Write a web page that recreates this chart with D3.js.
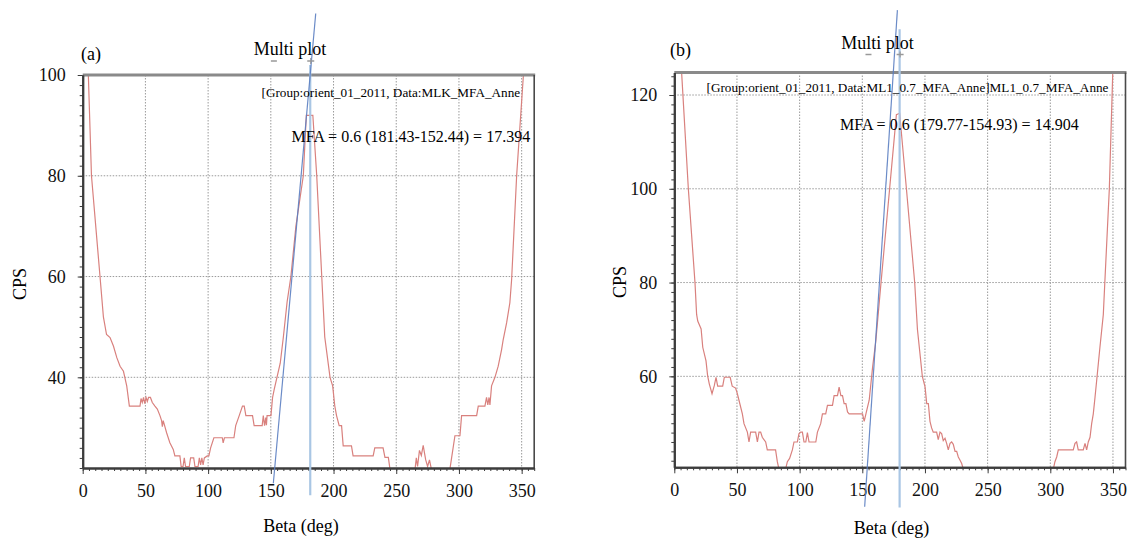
<!DOCTYPE html>
<html>
<head>
<meta charset="utf-8">
<title>Multi plot</title>
<script src="https://cdn.jsdelivr.net/npm/d3@7"></script>
<style>
  body { margin: 0; background: #fff; }
  svg { display: block; font-family: "Liberation Serif", "Times New Roman", serif; }
  .axis path, .axis line { stroke: #3c3c3c; }
  .axis path { stroke-width: 2; }
  .axis text { font-family: "Liberation Serif", serif; font-size: 18px; fill: #111; }
  .grid line { stroke: #9a9a9a; stroke-width: 1; stroke-dasharray: 1.5,1.5; }
</style>
</head>
<body>
<svg id="chart" width="1127" height="538"></svg>
<script>
// ---- data ----
const xTicks = [0, 50, 100, 150, 200, 250, 300, 350]
const yTicksA = [40, 60, 80, 100]
const yTicksB = [60, 80, 100, 120]

// panel (a): Beta (deg) / CPS
const betaA = [3, 4.5, 7, 13.8, 16.5, 19, 21.8, 24.5, 27.2, 29.8, 32.5, 35.1, 37.2, 45.7, 46.5, 47.5, 48.5, 49.5, 50.5, 51.5, 52.5, 54, 55.5, 57.6,
  59.5, 61.6, 62.9, 63.5, 64.2, 66.9, 69.5, 72.2, 73.5, 77.5, 78.5, 80, 81, 82, 85, 86, 88.5, 89.5, 92, 93, 94, 95, 96, 97, 99.3, 100.6,
  102, 104.6, 111.3, 112, 113, 120.6, 122, 124.8, 127.4, 128.8, 130.1, 135.4, 136.7, 143.1, 144, 145, 146, 146.5, 147, 150.1,
  151.4, 152.7, 157.5, 160, 163, 166, 170, 175.9, 178.3, 183.5, 186.6, 190.6, 193, 197.2, 199.3, 199.6, 201, 202.4, 204.5, 206.4,
  207.7, 214.3, 215.6, 231.6, 232.9, 239.5, 241, 243.7, 245, 265, 266, 267, 268.5, 270, 271.5, 272.5, 273.5, 275, 276.5, 278,
  292.8, 294.2, 296.8, 300.8, 302.1, 314.1, 315.4, 320.7, 322, 323, 324, 324.7, 326, 328.7, 331.3, 334, 335.3, 338, 340.6, 342,
  346, 351.4, 353]
const cpsA = [108, 100, 80, 60, 52, 48.5, 47.9, 46.2, 43.9, 42.2, 41.2, 38.3, 34.3, 34.3, 35.8, 35.0, 36.0, 34.8, 36.0, 35.2, 36.0, 36.0, 35.0, 34.3,
  33.7, 32.4, 31.4, 30.2, 31.4, 29.0, 27.0, 25.7, 24.4, 24.4, 22.3, 22.3, 24.0, 22.3, 22.3, 24.0, 24.0, 22.3, 22.3, 24.0, 22.6, 24.0, 22.6, 24.0, 24.4, 24.4,
  26.0, 28.0, 28.0, 27.0, 28.0, 28.0, 30.4, 32.4, 34.3, 34.3, 32.4, 32.4, 30.4, 30.4, 32.4, 30.4, 32.0, 30.5, 32.4, 32.4,
  36.0, 37.6, 42.8, 48, 55, 60, 70, 80, 92, 92, 80, 60, 48, 40, 38.3, 37.6, 34.3, 32.4, 30.4, 30.4,
  26.4, 26.4, 24.4, 24.4, 26.0, 26.0, 24.1, 24.1, 21.8, 21.8, 24, 22.3, 25.5, 24.5, 26.5, 25.0, 23.6, 22.3, 23.6, 21.8,
  21.8, 24.1, 28.4, 28.4, 32.4, 32.4, 34.3, 34.3, 36, 34.5, 36, 34.5, 38.3, 40, 42.2, 45.5, 47.5, 50.8, 54.8, 59.4,
  80, 100, 108]

// panel (b)
const betaB = [4, 5.9, 11.2, 16.5, 17.8, 18.7, 21.4, 22.7, 25.3, 26.6, 27.9, 30.1, 31.9, 33.3, 34.6, 38.6, 39.9, 44.6, 46.2, 48.9, 50.3, 51.6, 54.3, 55.6,
  58.3, 59.6, 60.9, 64.9, 66.3, 67.6, 68.9, 70.2, 72.9, 74.2, 80.8, 82.2, 83.5, 88.8, 90.2, 92, 94.2, 95.5, 98.2, 99.5, 100.9, 102.2, 103.5, 104.9,
  106.2, 107.5, 112.9, 114.2, 116.8, 118.2, 120.8, 122.2, 126.2, 127.5, 130.2, 131.5, 132.9, 134.2, 135.5, 136.9, 138.2, 139.5, 150.2,
  151.5, 152.9, 154.2, 155.5, 158.2, 160.8, 164.8, 171.8, 177.2, 179.8, 185.2, 191.8, 194, 197.9, 200.1, 201.4, 202.7, 204, 205.3, 206.6,
  209.3, 210.6, 212, 213.3, 214.6, 216, 217.3, 218.6, 220, 221.3, 222.6, 224, 225.3, 226.6, 228, 229.3, 230.6, 302.4, 303.7, 305.1, 306.4,
  318.3, 319.7, 321, 322.3, 326.3, 327.7, 329, 330.3, 331.7, 333, 334.3, 335.7, 337, 339.6, 342.3, 343.5, 347.1, 349.8, 351]
const cpsB = [130, 124.5, 100, 80, 73.2, 71.8, 70.1, 66.2, 63.3, 60.1, 58.4, 56.3, 58.0, 59.8, 57.9, 57.9, 59.8, 59.8, 57.9, 57.5, 56.3, 54.9, 52.0, 49.9,
  48.1, 46.0, 48.1, 48.1, 46.0, 48.1, 48.1, 47.0, 46.0, 44.3, 44.3, 41.8, 40.2, 40.2, 41.8, 42.5, 44.3, 46.0, 46.0, 47.8, 48.1, 48.1, 46.0, 46.0,
  48.0, 46.0, 46.0, 48.1, 49.9, 52.0, 52.0, 53.8, 53.8, 55.9, 55.9, 57.7, 55.9, 55.9, 54.2, 54.2, 52.4, 52.0, 52.0,
  50.4, 52.0, 53.5, 54.9, 61.9, 67.6, 79.6, 100, 115.8, 116.1, 100, 80, 70, 60, 57.7, 54.2, 54.2, 50.4, 49.0, 48.1,
  48.1, 46.5, 48.1, 47.8, 46.3, 46.8, 45.7, 44.3, 45.7, 46.0, 45.5, 44.0, 44.0, 42.8, 42.1, 41.4, 40.2, 40.2, 41.8, 42.8, 44.3,
  44.3, 45.7, 46.0, 44.3, 44.3, 45.7, 44.3, 46.0, 47.0, 49.9, 52.0, 55.6, 59.1, 66.2, 73.2, 80, 100, 124.5, 130]

// MFA construction lines: tangent (beta, cps end points) and peak position
const fitBetaA = [152.0, 185.8], fitCpsA = [18.96, 112.2]
const peakA = 181.43, baseA = 152.44, peakSpanA = [16.6, 102]
const fitBetaB = [151.9, 178.0], fitCpsB = [32.2, 138.1]
const peakB = 179.77, baseB = 154.93, peakSpanB = [32.0, 134]

const FONT = '"Liberation Serif", "Times New Roman", serif'
const svg = d3.select("#chart")

function drawPanel(p) {
  const x = d3.scaleLinear().domain([0, 360]).range([p.left, p.right])
  const y = d3.scaleLinear().domain(p.yDomain).range([p.bottom, p.top])
  const g = svg.append("g")

  svg.append("clipPath").attr("id", p.id + "clip")
    .append("rect")
    .attr("x", p.left).attr("y", p.top)
    .attr("width", p.right - p.left).attr("height", p.bottom - p.top)

  // dotted grid
  const grid = g.append("g").attr("class", "grid")
  grid.selectAll(".gx").data(xTicks.filter(d => d > 0)).join("line")
    .attr("x1", d => x(d)).attr("x2", d => x(d))
    .attr("y1", p.top).attr("y2", p.bottom)
  grid.selectAll(".gy").data(p.yTicks.filter(d => y(d) > p.top + 3)).join("line")
    .attr("x1", p.left).attr("x2", p.right)
    .attr("y1", d => y(d)).attr("y2", d => y(d))

  // measured curve
  const pts = p.beta.map((b, i) => ({beta: b, cps: p.cps[i]}))
  g.append("path")
    .datum(pts)
    .attr("clip-path", `url(#${p.id}clip)`)
    .attr("fill", "none")
    .attr("stroke", "#d9817e")
    .attr("stroke-width", 1.2)
    .attr("d", d3.line().x(d => x(d.beta)).y(d => y(d.cps)))

  // frame top / right
  g.append("line").attr("x1", p.left).attr("x2", p.right + 1)
    .attr("y1", p.top).attr("y2", p.top)
    .attr("stroke", "#8a8a8a").attr("stroke-width", 3)
  g.append("line").attr("x1", p.right).attr("x2", p.right)
    .attr("y1", p.top).attr("y2", p.bottom)
    .attr("stroke", "#4a4a4a").attr("stroke-width", 1.6)

  // axes
  g.append("g").attr("class", "axis")
    .attr("transform", `translate(0,${p.bottom})`)
    .call(d3.axisBottom(x).tickValues(d3.range(0, 361, 5)).tickSize(3).tickSizeOuter(0).tickFormat(""))
  g.append("g").attr("class", "axis")
    .attr("transform", `translate(0,${p.bottom})`)
    .call(d3.axisBottom(x).tickValues(xTicks).tickSize(6).tickPadding(10).tickSizeOuter(0))
    .attr("font-family", FONT).attr("font-size", 18)
  const minorY = d3.range(Math.ceil(p.yDomain[0] / 2) * 2, p.yDomain[1], 2)
  g.append("g").attr("class", "axis")
    .attr("transform", `translate(${p.left},0)`)
    .call(d3.axisLeft(y).tickValues(minorY).tickSize(3).tickSizeOuter(0).tickFormat(""))
  g.append("g").attr("class", "axis")
    .attr("transform", `translate(${p.left},0)`)
    .call(d3.axisLeft(y).tickValues(p.yTicks).tickSize(5).tickPadding(12).tickSizeOuter(0))
    .attr("font-family", FONT).attr("font-size", 18)

  // peak marker (vertical) and tangent
  g.append("line")
    .attr("x1", x(p.peak)).attr("x2", x(p.peak))
    .attr("y1", y(p.peakSpan[0])).attr("y2", y(p.peakSpan[1]))
    .attr("stroke", "#a9c6e4").attr("stroke-width", 2.2)
  g.append("line")
    .attr("x1", x(p.fitBeta[0])).attr("y1", y(p.fitCps[0]))
    .attr("x2", x(p.fitBeta[1])).attr("y2", y(p.fitCps[1]))
    .attr("stroke", "#5b7fc2").attr("stroke-width", 1.2).attr("opacity", 0.9)

  // small cursor marks under the title
  const my = p.titleY + 6
  g.append("line").attr("x1", x(p.base) - 3).attr("x2", x(p.base) + 3)
    .attr("y1", my).attr("y2", my).attr("stroke", "#999").attr("stroke-width", 1.5)
  g.append("line").attr("x1", x(p.peak) - 3).attr("x2", x(p.peak) + 4)
    .attr("y1", my).attr("y2", my).attr("stroke", "#999").attr("stroke-width", 1.5)
  g.append("line").attr("x1", x(p.peak) + 0.5).attr("x2", x(p.peak) + 0.5)
    .attr("y1", my - 3).attr("y2", my + 3).attr("stroke", "#999").attr("stroke-width", 1.2)

  // texts
  g.append("text").attr("x", p.tagX).attr("y", p.tagY)
    .attr("font-size", 18).text(p.tag)
  g.append("text").attr("x", p.titleX).attr("y", p.titleY)
    .attr("text-anchor", "middle").attr("font-size", 18).text("Multi plot")
  g.append("text").attr("x", p.infoX).attr("y", p.infoY)
    .attr("font-size", 13.2).text(p.info)
  g.append("text").attr("x", p.mfaX).attr("y", p.mfaY)
    .attr("font-size", 16).text(p.mfa)
  g.append("text").attr("x", p.xLabelX).attr("y", p.xLabelY)
    .attr("text-anchor", "middle").attr("font-size", 18).text("Beta (deg)")
  g.append("text")
    .attr("transform", `translate(${p.yLabelX},${p.yLabelY}) rotate(-90)`)
    .attr("text-anchor", "middle").attr("font-size", 18).text("CPS")
}

drawPanel({
  id: "a", left: 82.7, right: 534.2, top: 75, bottom: 468, yDomain: [22, 100], yTicks: yTicksA,
  beta: betaA, cps: cpsA, fitBeta: fitBetaA, fitCps: fitCpsA, peak: peakA, base: baseA, peakSpan: peakSpanA,
  tag: "(a)", tagX: 81, tagY: 60, titleX: 290, titleY: 55,
  info: "[Group:orient_01_2011, Data:MLK_MFA_Anne", infoX: 261.5, infoY: 97,
  mfa: "MFA = 0.6 (181.43-152.44) = 17.394", mfaX: 291.5, mfaY: 141.5,
  xLabelX: 301, xLabelY: 532, yLabelX: 26, yLabelY: 284
})

drawPanel({
  id: "b", left: 674.3, right: 1125.5, top: 72.5, bottom: 467.3, yDomain: [40.6, 124.8], yTicks: yTicksB,
  beta: betaB, cps: cpsB, fitBeta: fitBetaB, fitCps: fitCpsB, peak: peakB, base: baseB, peakSpan: peakSpanB,
  tag: "(b)", tagX: 670, tagY: 56, titleX: 877.5, titleY: 48.5,
  info: "[Group:orient_01_2011, Data:ML1_0.7_MFA_Anne]ML1_0.7_MFA_Anne", infoX: 706.5, infoY: 92,
  mfa: "MFA = 0.6 (179.77-154.93) = 14.904", mfaX: 840, mfaY: 130,
  xLabelX: 891.5, xLabelY: 534, yLabelX: 626, yLabelY: 282
})
</script>
</body>
</html>
